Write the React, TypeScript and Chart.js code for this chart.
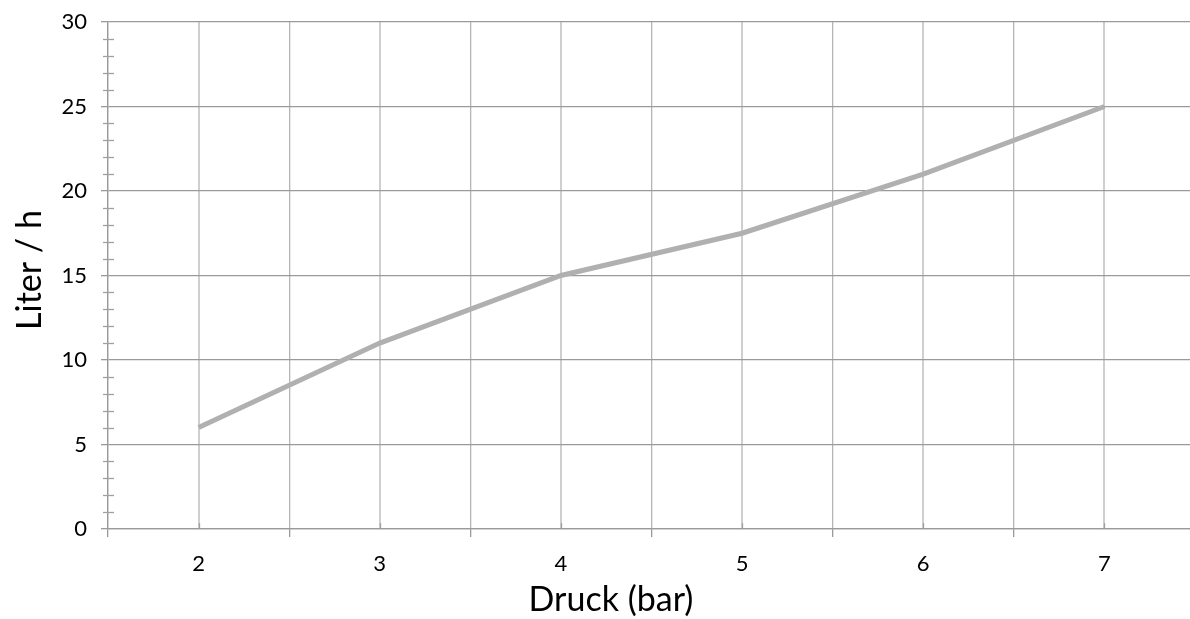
import React, { useEffect, useRef } from "react";
import { Chart, registerables } from "chart.js";

Chart.register(...registerables);

const pressures = [2, 3, 4, 5, 6, 7];
const litersPerHour = [6, 11, 15, 17.5, 21, 25];
const xTickValues = [1.5, 2, 2.5, 3, 3.5, 4, 4.5, 5, 5.5, 6, 6.5, 7, 7.5];
const yMajorStep = 5;
const yMinorValues = [1, 2, 3, 4, 6, 7, 8, 9, 11, 12, 13, 14, 16, 17, 18, 19, 21, 22, 23, 24, 26, 27, 28, 29];
const xTitle = "Druck (bar)";
const yTitle = "Liter / h";

const FONT = "Lato, 'Open Sans', sans-serif";
const TITLE_FONT = `34px ${FONT}`;

const extrasPlugin = {
  id: "extras",
  afterDraw(chart: any) {
    const ctx = chart.ctx;
    const y = chart.scales.y;
    const x = chart.scales.x;
    ctx.save();
    ctx.strokeStyle = "#a0a0a0";
    ctx.lineWidth = 1.3;
    const ax = x.getPixelForValue(x.min);
    for (const v of yMinorValues) {
      const py = Math.round(y.getPixelForValue(v)) + 0.5;
      ctx.beginPath();
      ctx.moveTo(ax - 5, py);
      ctx.lineTo(ax + 6, py);
      ctx.stroke();
    }
    const y0 = y.getPixelForValue(0);
    for (const v of pressures) {
      const px = Math.round(x.getPixelForValue(v)) + 0.5;
      ctx.beginPath();
      ctx.moveTo(px, y0 - 6);
      ctx.lineTo(px, y0);
      ctx.stroke();
    }
    // axis titles
    ctx.fillStyle = "#000";
    ctx.font = TITLE_FONT;
    ctx.textAlign = "center";
    ctx.textBaseline = "middle";
    ctx.fillText(xTitle, 611, 600);
    ctx.translate(30, 270);
    ctx.rotate(-Math.PI / 2);
    ctx.fillText(yTitle, 0, 0);
    ctx.restore();
  },
};

export default function App() {
  const ref = useRef<HTMLCanvasElement | null>(null);
  useEffect(() => {
    if (!ref.current) return;
    const chart = new Chart(ref.current, {
      type: "line",
      data: {
        datasets: [
          {
            data: pressures.map((p, i) => ({ x: p, y: litersPerHour[i] })),
            borderColor: "#b0b0b0",
            borderWidth: 5,
            pointRadius: 0,
            tension: 0,
            fill: false,
          },
        ],
      },
      options: {
        animation: false,
        responsive: false,
        layout: { padding: { top: 22, right: 0, left: 0, bottom: 0 } },
        plugins: { legend: { display: false }, tooltip: { enabled: false } },
        scales: {
          x: {
            type: "linear",
            min: 1.5,
            max: 7.5,
            afterBuildTicks: (s: any) => {
              s.ticks = xTickValues.map((v) => ({ value: v }));
            },
            afterFit: (s: any) => {
              s.height = 90;
              s.paddingLeft = 0;
              s.paddingRight = 0;
            },
            border: { color: "#9a9a9a", width: 1.3 },
            grid: {
              color: (c: any) =>
                Number.isInteger(c.tick?.value) ? "#cfcfcf" : "#b5b5b5",
              lineWidth: (c: any) => (Number.isInteger(c.tick?.value) ? 2 : 1.3),
              tickLength: 8,
              tickColor: (c: any) =>
                Number.isInteger(c.tick?.value) ? "rgba(0,0,0,0)" : "#9a9a9a",
            },
            ticks: {
              autoSkip: false,
              maxRotation: 0,
              padding: 14,
              color: "#000",
              font: { family: FONT, size: 22 },
              callback: (v: any) => (Number.isInteger(v) ? String(v) : ""),
            },
            title: { display: false },
          },
          y: {
            type: "linear",
            min: 0,
            max: 30,
            afterFit: (s: any) => {
              s.width = 108;
              s.paddingTop = 0;
              s.paddingBottom = 0;
            },
            border: { color: "#9a9a9a", width: 1.3 },
            grid: {
              color: "#9a9a9a",
              lineWidth: 1.3,
              tickLength: 7,
              tickColor: "#9a9a9a",
            },
            ticks: {
              stepSize: yMajorStep,
              padding: 14,
              color: "#000",
              font: { family: FONT, size: 22 },
            },
            title: { display: false },
          },
        },
      },
      plugins: [extrasPlugin],
    });
    return () => chart.destroy();
  }, []);
  return (
    <div style={{ position: "fixed", left: 0, top: 0, width: 1190, height: 619, overflow: "hidden", background: "#fff" }}>
      <canvas ref={ref} width={1195} height={619} style={{ display: "block" }} />
    </div>
  );
}
